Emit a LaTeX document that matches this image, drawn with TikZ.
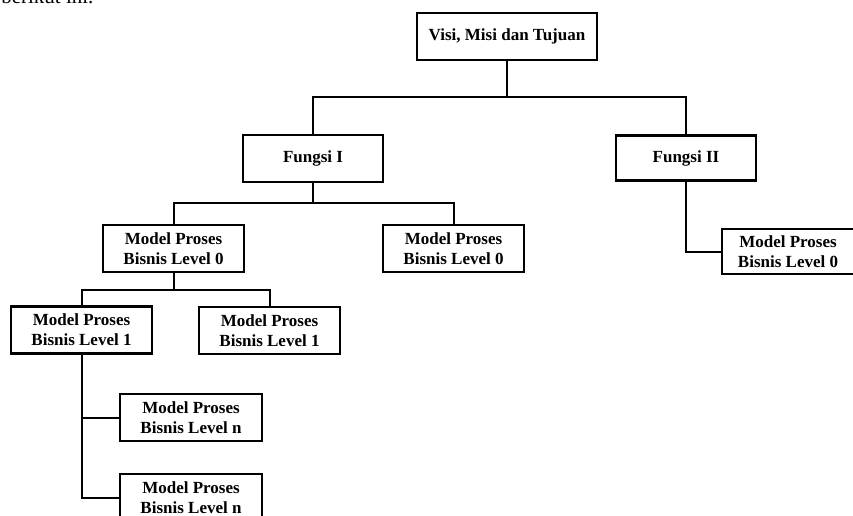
\documentclass[tikz,border=0pt]{standalone}
\usepackage{fontspec}
\setmainfont{Liberation Serif}
\usetikzlibrary{positioning}

\begin{document}
\begin{tikzpicture}[x=1pt,y=-1pt,line cap=rect,line join=miter,
  kotak/.style={draw,line width=2.6pt,fill=white,minimum width=141pt,minimum height=47pt,
    inner sep=0pt,align=center,font=\bfseries\fontsize{17}{20}\selectfont},
  garis/.style={line width=2pt}]
\clip (0,0) rectangle (853,516);
\node[anchor=base east,font=\fontsize{21}{24}\selectfont] (teks) at (97,4) {berikut ini.};
% kotak-kotak
\node[kotak,minimum width=180pt] (visi) at (507,36.5) {Visi, Misi dan Tujuan};
\node[kotak,minimum width=140pt] (fungsiI) at (313,158.5) {Fungsi I};
\node[kotak,minimum width=140pt,minimum height=45pt] (fungsiII) at (686,158) {Fungsi II};
\node[kotak] (levelnolA) at (173.5,248.5) {Model Proses\\Bisnis Level 0};
\node[kotak] (levelnolB) at (453.5,248.5) {Model Proses\\Bisnis Level 0};
\node[kotak,minimum width=132pt,minimum height=45pt] (levelnolC) at (788,251.5) {Model Proses\\Bisnis Level 0};
\node[kotak] (levelsatuA) at (81.5,330) {Model Proses\\Bisnis Level 1};
\node[kotak] (levelsatuB) at (269.5,330.5) {Model Proses\\Bisnis Level 1};
\node[kotak,minimum width=142pt] (levelnA) at (191,417.5) {Model Proses\\Bisnis Level n};
\node[kotak,minimum width=142pt] (levelnB) at (191,497.5) {Model Proses\\Bisnis Level n};
% garis penghubung
\coordinate (cabangA) at (507,97);
\coordinate (cabangB) at (313,203);
\coordinate (cabangC) at (173.5,290);
\draw[garis] (visi) -- (cabangA);
\draw[garis] (fungsiI.north) |- (cabangA) -| (fungsiII.north);
\draw[garis] (fungsiI) -- (cabangB);
\draw[garis] (levelnolA.north) |- (cabangB) -| (levelnolB.north);
\draw[garis] (fungsiII.south) |- (levelnolC.west);
\draw[garis] (levelnolA) -- (cabangC);
\draw[garis] (levelsatuA.north) |- (cabangC) -| (levelsatuB.north);
\draw[garis] (levelsatuA.south) |- (levelnA.west);
\draw[garis] (levelsatuA.south) |- (levelnB.west);
\end{tikzpicture}
\end{document}
